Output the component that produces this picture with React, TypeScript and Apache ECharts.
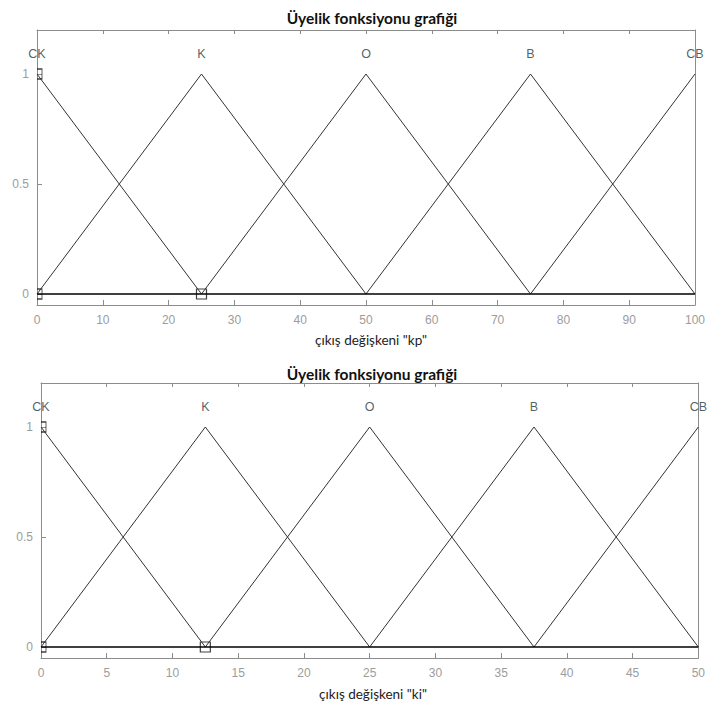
import React, { useEffect, useRef } from "react";
import * as echarts from "echarts";

const mfNames = ["CK", "K", "O", "B", "CB"];
const kpPeaks = [0, 25, 50, 75, 100];
const kiPeaks = [0, 12.5, 25, 37.5, 50];
const kpMarkers = [[0, 1], [0, 0], [25, 0]];
const kiMarkers = [[0, 1], [0, 0], [12.5, 0]];
const yTicks = [0, 0.5, 1];
const labelLevel = 1.09;
const titleText = "Üyelik fonksiyonu grafiği";
const kpLabel = 'çıkış değişkeni "kp"';
const kiLabel = 'çıkış değişkeni "ki"';

const FRAME = "#8c8c8c";
const TICKTXT = "#9c9c9c";
const HALF_RECT = "path://M0,0 L5,0 L5,10 L0,10";

function triangles(peaks: number[]) {
  return peaks.map((p, i) => {
    const pts: number[][] = [];
    if (i > 0) pts.push([peaks[i - 1], 0]);
    pts.push([p, 1]);
    if (i < peaks.length - 1) pts.push([peaks[i + 1], 0]);
    return pts;
  });
}

function buildPanel(
  gi: number,
  peaks: number[],
  markers: number[][],
  interval: number
) {
  const min = peaks[0];
  const max = peaks[peaks.length - 1];
  const xAxes = [
    {
      type: "value",
      gridIndex: gi,
      min,
      max,
      interval,
      position: "bottom",
      axisLine: { show: true, onZero: false, lineStyle: { color: FRAME, width: 1 } },
      axisTick: { show: true, inside: true, length: 5, lineStyle: { color: FRAME } },
      axisLabel: {
        show: true,
        color: TICKTXT,
        fontFamily: "Liberation Sans",
        fontSize: 12,
        margin: 9,
      },
      splitLine: { show: false },
    },
    {
      type: "value",
      gridIndex: gi,
      min,
      max,
      interval,
      position: "top",
      axisLine: { show: true, onZero: false, lineStyle: { color: FRAME, width: 1 } },
      axisTick: { show: true, inside: true, length: 4, lineStyle: { color: FRAME } },
      axisLabel: { show: false },
      splitLine: { show: false },
    },
  ];
  const yAxes = [
    {
      type: "value",
      gridIndex: gi,
      min: -0.05,
      max: 1.2,
      position: "left",
      axisLine: { show: true, onZero: false, lineStyle: { color: FRAME, width: 1 } },
      axisTick: {
        show: true,
        inside: true,
        length: 5,
        customValues: yTicks,
        lineStyle: { color: FRAME },
      },
      axisLabel: {
        show: true,
        customValues: yTicks,
        color: TICKTXT,
        fontFamily: "Liberation Sans",
        fontSize: 12,
        margin: 8,
      },
      splitLine: { show: false },
    },
    {
      type: "value",
      gridIndex: gi,
      min: -0.05,
      max: 1.2,
      position: "right",
      axisLine: { show: true, onZero: false, lineStyle: { color: FRAME, width: 1 } },
      axisTick: { show: false },
      axisLabel: { show: false },
      splitLine: { show: false },
    },
  ];
  const xi = gi * 2;
  const yi = gi * 2;
  const series: any[] = [];
  triangles(peaks).forEach((pts) => {
    series.push({
      type: "line",
      xAxisIndex: xi,
      yAxisIndex: yi,
      data: pts,
      showSymbol: false,
      symbol: "none",
      lineStyle: { color: "#333333", width: 1 },
      silent: true,
    });
  });
  series.push({
    type: "line",
    xAxisIndex: xi,
    yAxisIndex: yi,
    data: [
      [min, 0],
      [max, 0],
    ],
    symbol: "none",
    lineStyle: { color: "#000000", width: 1.6 },
    silent: true,
  });
  series.push({
    type: "scatter",
    xAxisIndex: xi,
    yAxisIndex: yi,
    data: markers.map((m) =>
      m[0] === min
        ? { value: m, symbol: HALF_RECT, symbolSize: [5, 10], symbolOffset: [2.5, 0] }
        : { value: m }
    ),
    symbol: "rect",
    symbolSize: 10,
    itemStyle: { color: "rgba(0,0,0,0)", borderColor: "#111", borderWidth: 1.2 },
    silent: true,
  });
  series.push({
    type: "scatter",
    xAxisIndex: xi,
    yAxisIndex: yi,
    data: peaks.map((p, i) => ({ name: mfNames[i], value: [p, labelLevel] })),
    symbolSize: 0,
    clip: false,
    label: {
      show: true,
      position: "inside",
      formatter: "{b}",
      color: "#1e3a3c",
      fontFamily: "Liberation Sans",
      fontSize: 12.5,
    },
    silent: true,
  });
  return { xAxes, yAxes, series };
}

export default function App() {
  const ref = useRef<HTMLDivElement>(null);
  useEffect(() => {
    if (!ref.current) return;
    const chart = echarts.init(ref.current, null, { renderer: "svg" });
    const p1 = buildPanel(0, kpPeaks, kpMarkers, 10);
    const p2 = buildPanel(1, kiPeaks, kiMarkers, 5);
    const titleStyle = {
      fontFamily: "Lato",
      fontWeight: "bold" as const,
      fontSize: 15.5,
      color: "#111111",
    };
    const subStyle = {
      fontFamily: "Lato",
      fontWeight: "normal" as const,
      fontSize: 13.5,
      color: "#222222",
    };
    chart.setOption({
      animation: false,
      backgroundColor: "#ffffff",
      title: [
        { text: titleText, left: 367, top: 5, textAlign: "center", textStyle: titleStyle },
        { text: kpLabel, left: 366, top: 328, textAlign: "center", textStyle: subStyle },
        { text: titleText, left: 367, top: 361, textAlign: "center", textStyle: titleStyle },
        { text: kiLabel, left: 368, top: 682, textAlign: "center", textStyle: subStyle },
      ],
      grid: [
        { left: 37, top: 30, width: 660, height: 275 },
        { left: 41, top: 383, width: 660, height: 275 },
      ],
      xAxis: [...p1.xAxes, ...p2.xAxes],
      yAxis: [...p1.yAxes, ...p2.yAxes],
      series: [...p1.series, ...p2.series],
    });
    return () => chart.dispose();
  }, []);
  return (
    <div
      ref={ref}
      style={{ position: "fixed", left: 0, top: 0, width: 708, height: 707, background: "#fff" }}
    />
  );
}
